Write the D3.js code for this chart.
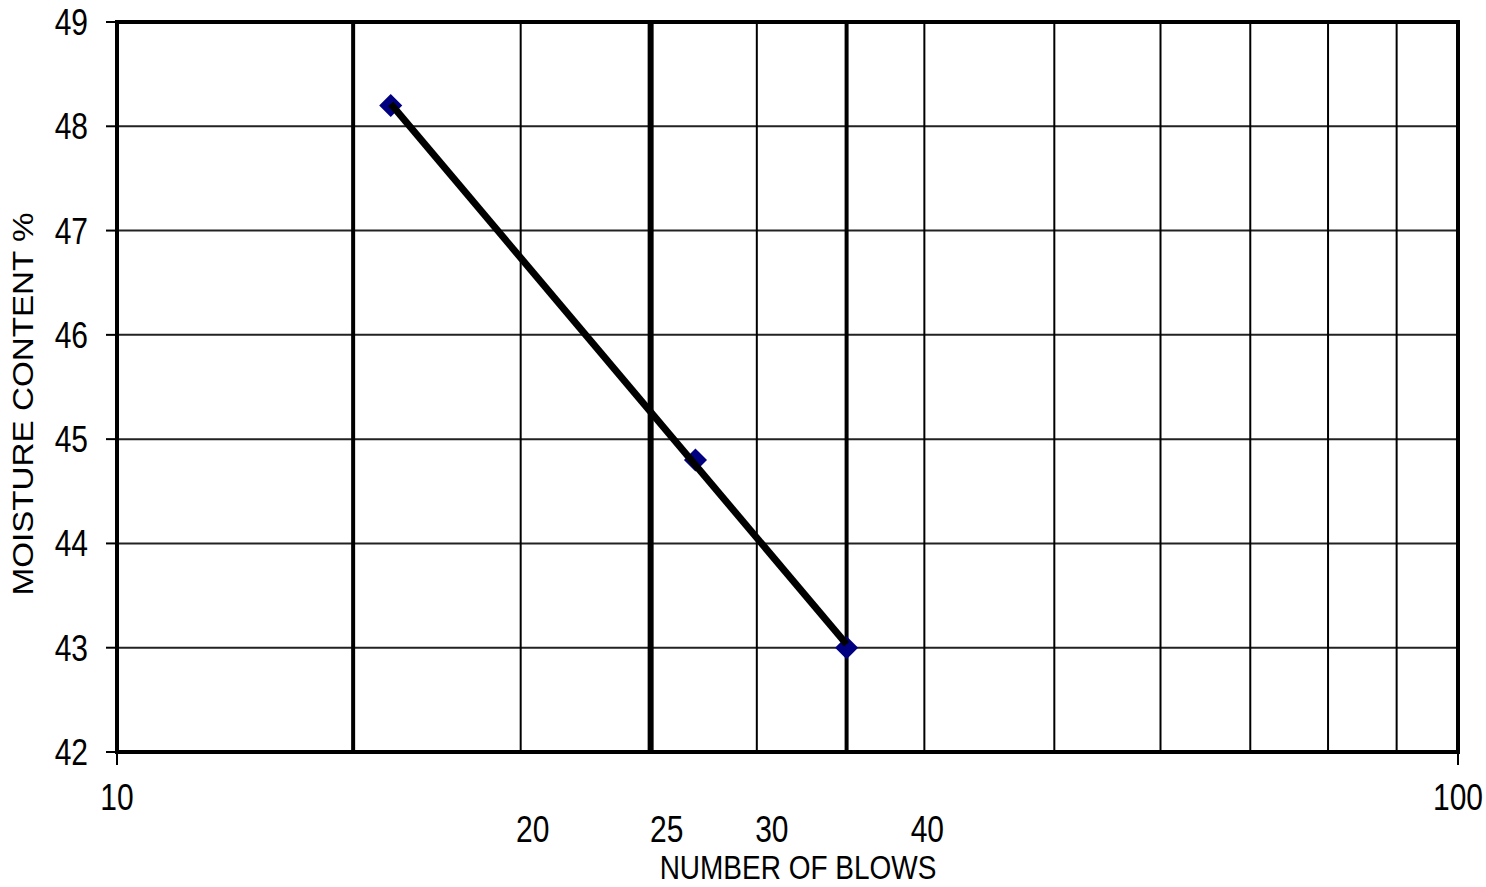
<!DOCTYPE html>
<html>
<head>
<meta charset="utf-8">
<script src="https://cdn.jsdelivr.net/npm/d3@7"></script>
<style>
  html, body { margin: 0; padding: 0; background: #fff; }
  svg { display: block; }
  text { font-family: "Liberation Sans", Arial, sans-serif; fill: #000; }
</style>
</head>
<body>
<div id="chart"></div>
<script>
// liquid limit test: moisture content vs number of blows
const blows = [16, 27, 35];
const moisture = [48.2, 44.8, 43.0];

const yTicks = [42, 43, 44, 45, 46, 47, 48, 49];
const xGrid = [15, 20, 25, 30, 35, 40, 50, 60, 70, 80, 90];
const xDecadeLabels = [10, 100];
const xInnerLabels = [20, 25, 30, 40];

const width = 1486, height = 887;
const margin = { top: 22, right: 28, bottom: 135, left: 117 };

const svg = d3.select('#chart').append('svg')
  .attr('width', width)
  .attr('height', height);

const x = d3.scaleLog().domain([10, 100]).range([margin.left, width - margin.right]);
const y = d3.scaleLinear().domain([42, 49]).range([height - margin.bottom, margin.top]);

// grid weights (heavier lines mark 15 / 25 / 35 blows)
const gridWidth = v => v === 25 ? 6 : (v === 15 || v === 35) ? 4 : 2;

svg.append('g')
  .selectAll('line')
  .data(yTicks.slice(1, -1))
  .join('line')
    .attr('x1', x(10)).attr('x2', x(100))
    .attr('y1', d => y(d)).attr('y2', d => y(d))
    .attr('stroke', '#222')
    .attr('stroke-width', 2);

svg.append('g')
  .selectAll('line')
  .data(xGrid)
  .join('line')
    .attr('x1', d => x(d)).attr('x2', d => x(d))
    .attr('y1', y(49)).attr('y2', y(42))
    .attr('stroke', '#000')
    .attr('stroke-width', gridWidth);

// plot frame
svg.append('rect')
  .attr('x', x(10)).attr('y', y(49))
  .attr('width', x(100) - x(10))
  .attr('height', y(42) - y(49))
  .attr('fill', 'none')
  .attr('stroke', '#000')
  .attr('stroke-width', 4);

// y axis ticks + labels
const yAxis = svg.append('g');
yAxis.selectAll('line')
  .data(yTicks)
  .join('line')
    .attr('x1', x(10) - 11).attr('x2', x(10))
    .attr('y1', d => y(d)).attr('y2', d => y(d))
    .attr('stroke', '#000').attr('stroke-width', 2);
yAxis.selectAll('text')
  .data(yTicks)
  .join('text')
    .attr('text-anchor', 'end')
    .attr('font-size', 30)
    .attr('transform', d => `translate(${x(10) - 29},${y(d) + 13}) scale(1,1.25)`)
    .text(d => d);

// x axis ticks (decades only) + labels
const xAxis = svg.append('g');
xAxis.selectAll('line')
  .data(xDecadeLabels)
  .join('line')
    .attr('x1', d => x(d)).attr('x2', d => x(d))
    .attr('y1', y(42)).attr('y2', y(42) + 13)
    .attr('stroke', '#000').attr('stroke-width', 2);
xAxis.selectAll('text.decade')
  .data(xDecadeLabels)
  .join('text')
    .attr('class', 'decade')
    .attr('text-anchor', 'middle')
    .attr('font-size', 30)
    .attr('transform', d => `translate(${x(d)},${y(42) + 58}) scale(1,1.25)`)
    .text(d => d);

const innerShift = { 20: 12, 25: 16, 30: 15, 40: 3 };
xAxis.selectAll('text.inner')
  .data(xInnerLabels)
  .join('text')
    .attr('class', 'inner')
    .attr('text-anchor', 'middle')
    .attr('font-size', 30)
    .attr('transform', d => `translate(${x(d) + innerShift[d]},${y(42) + 90}) scale(1,1.25)`)
    .text(d => d);

// axis titles
svg.append('text')
  .attr('text-anchor', 'middle')
  .attr('font-size', 28)
  .attr('fill', '#111')
  .attr('transform', `translate(798,879) scale(1,1.2)`)
  .text('NUMBER OF BLOWS');

svg.append('text')
  .attr('text-anchor', 'middle')
  .attr('font-size', 29)
  .attr('fill', '#111')
  .attr('textLength', 383)
  .attr('lengthAdjust', 'spacingAndGlyphs')
  .attr('transform', `translate(33,404) rotate(-90)`)
  .text('MOISTURE  CONTENT  %');

// markers
const pts = blows.map((b, i) => ({ b, m: moisture[i] }));
svg.append('g')
  .selectAll('path')
  .data(pts)
  .join('path')
    .attr('d', d3.symbol(d3.symbolDiamond2, 340))
    .attr('transform', d => `translate(${x(d.b)},${y(d.m)})`)
    .attr('fill', '#000080');

// least-squares flow line in log(blows)
const lx = blows.map(Math.log10);
const mx = d3.mean(lx), my = d3.mean(moisture);
const slope = d3.sum(lx, (v, i) => (v - mx) * (moisture[i] - my)) / d3.sum(lx, v => (v - mx) ** 2);
const fit = b => my + slope * (Math.log10(b) - mx);
const ends = d3.extent(blows);

svg.append('path')
  .datum(ends)
  .attr('d', d3.line().x(d => x(d)).y(d => y(fit(d))))
  .attr('stroke', '#000')
  .attr('stroke-width', 7)
  .attr('fill', 'none');
</script>
</body>
</html>
